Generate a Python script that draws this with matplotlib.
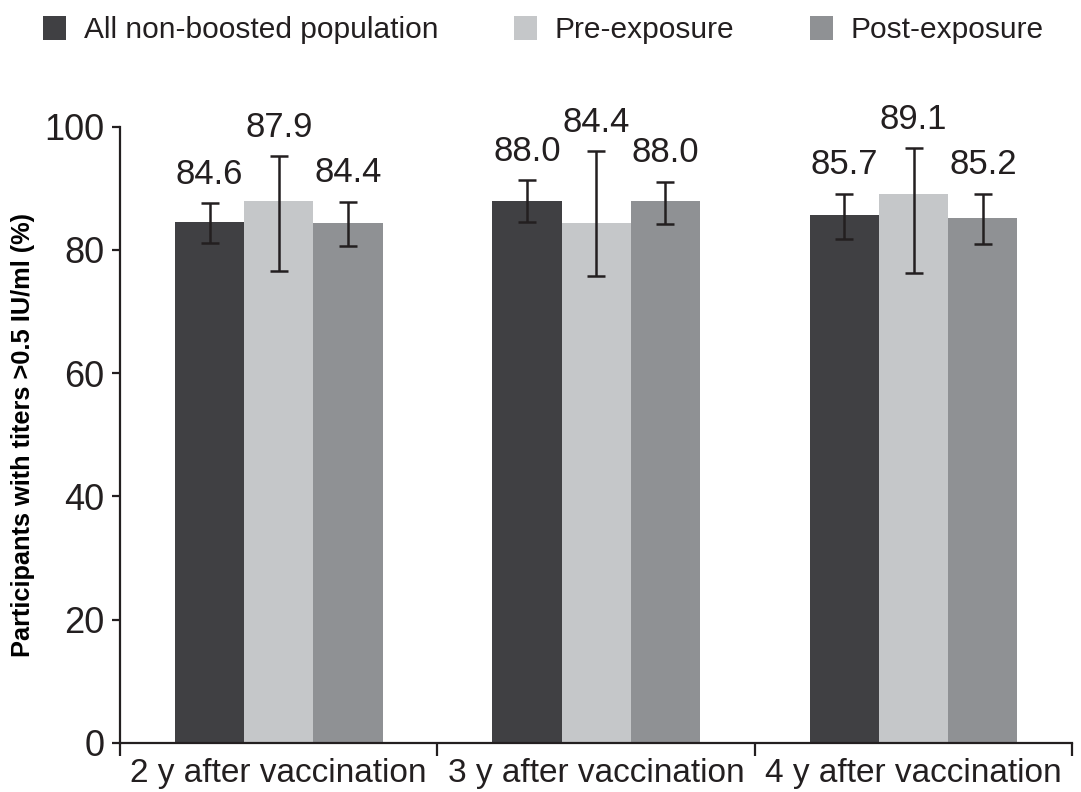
"""Seroprotection by time since vaccination, grouped bars with 95% CI."""

import matplotlib

matplotlib.use("Agg")
import matplotlib.pyplot as plt
import numpy as np

plt.rcParams.update(
    {
        "font.family": ["Liberation Sans", "DejaVu Sans"],
        "text.color": "#231f20",
        "axes.edgecolor": "#231f20",
        "xtick.color": "#231f20",
        "ytick.color": "#231f20",
        "axes.linewidth": 1.6,
    }
)

groups = ["2 y after vaccination", "3 y after vaccination", "4 y after vaccination"]
series = ["All non-boosted population", "Pre-exposure", "Post-exposure"]

all_pop = [84.6, 88.0, 85.7]
pre_exp = [87.9, 84.4, 89.1]
post_exp = [84.4, 88.0, 85.2]

all_pop_ci = [(81.2, 87.6), (84.6, 91.3), (81.8, 89.1)]
pre_exp_ci = [(76.6, 95.2), (75.7, 96.0), (76.3, 96.5)]
post_exp_ci = [(80.7, 87.8), (84.2, 91.1), (81.0, 89.1)]

y_ticks = [0, 20, 40, 60, 80, 100]

colors = ["#404043", "#c5c7c9", "#8f9194"]


def main() -> None:
    fig = plt.figure(figsize=(10.81, 7.92), dpi=100)
    ax = fig.add_axes([0.111, 0.062, 0.881, 0.778])

    x = np.arange(len(groups))
    width = 0.218
    values = [all_pop, pre_exp, post_exp]
    cis = [all_pop_ci, pre_exp_ci, post_exp_ci]

    for i, (vals, ci, name, color) in enumerate(zip(values, cis, series, colors)):
        pos = x + (i - 1) * width
        vals = np.array(vals)
        lo = np.array([c[0] for c in ci])
        hi = np.array([c[1] for c in ci])
        ax.bar(pos, vals, width, color=color, label=name, zorder=2)
        ax.errorbar(
            pos,
            vals,
            yerr=[vals - lo, hi - vals],
            fmt="none",
            ecolor="#231f20",
            elinewidth=1.8,
            capsize=6.5,
            capthick=1.8,
            zorder=3,
        )
        for px, v, top in zip(pos, vals, hi):
            ax.annotate(
                f"{v:.1f}",
                (px, top),
                xytext=(0, 9),
                textcoords="offset points",
                ha="center",
                va="bottom",
                fontsize=25,
            )

    ax.set_xlim(-0.5, len(groups) - 0.5)
    ax.set_ylim(0, 100)
    ax.set_yticks(y_ticks)
    ax.tick_params(axis="y", labelsize=26, length=6, width=1.6, pad=5)

    ax.set_xticks(np.arange(-0.5, len(groups)), labels=[])
    ax.set_xticks(x, labels=groups, minor=True)
    ax.tick_params(axis="x", which="major", length=9, width=1.6)
    ax.tick_params(axis="x", which="minor", length=0, labelsize=24, pad=11)

    ax.spines["top"].set_visible(False)
    ax.spines["right"].set_visible(False)

    ax.set_ylabel(
        "Participants with titers >0.5 IU/ml (%)",
        fontsize=18.3,
        fontweight="bold",
        labelpad=7,
    )

    fig.legend(
        loc="center left",
        bbox_to_anchor=(0.04, 0.962),
        ncol=3,
        frameon=False,
        fontsize=21.5,
        handlelength=0.75,
        handleheight=0.85,
        handletextpad=0.6,
        columnspacing=2.55,
        borderpad=0,
        borderaxespad=0,
    )

    fig.savefig("out.png", dpi=100)
    plt.close(fig)


if __name__ == "__main__":
    main()
